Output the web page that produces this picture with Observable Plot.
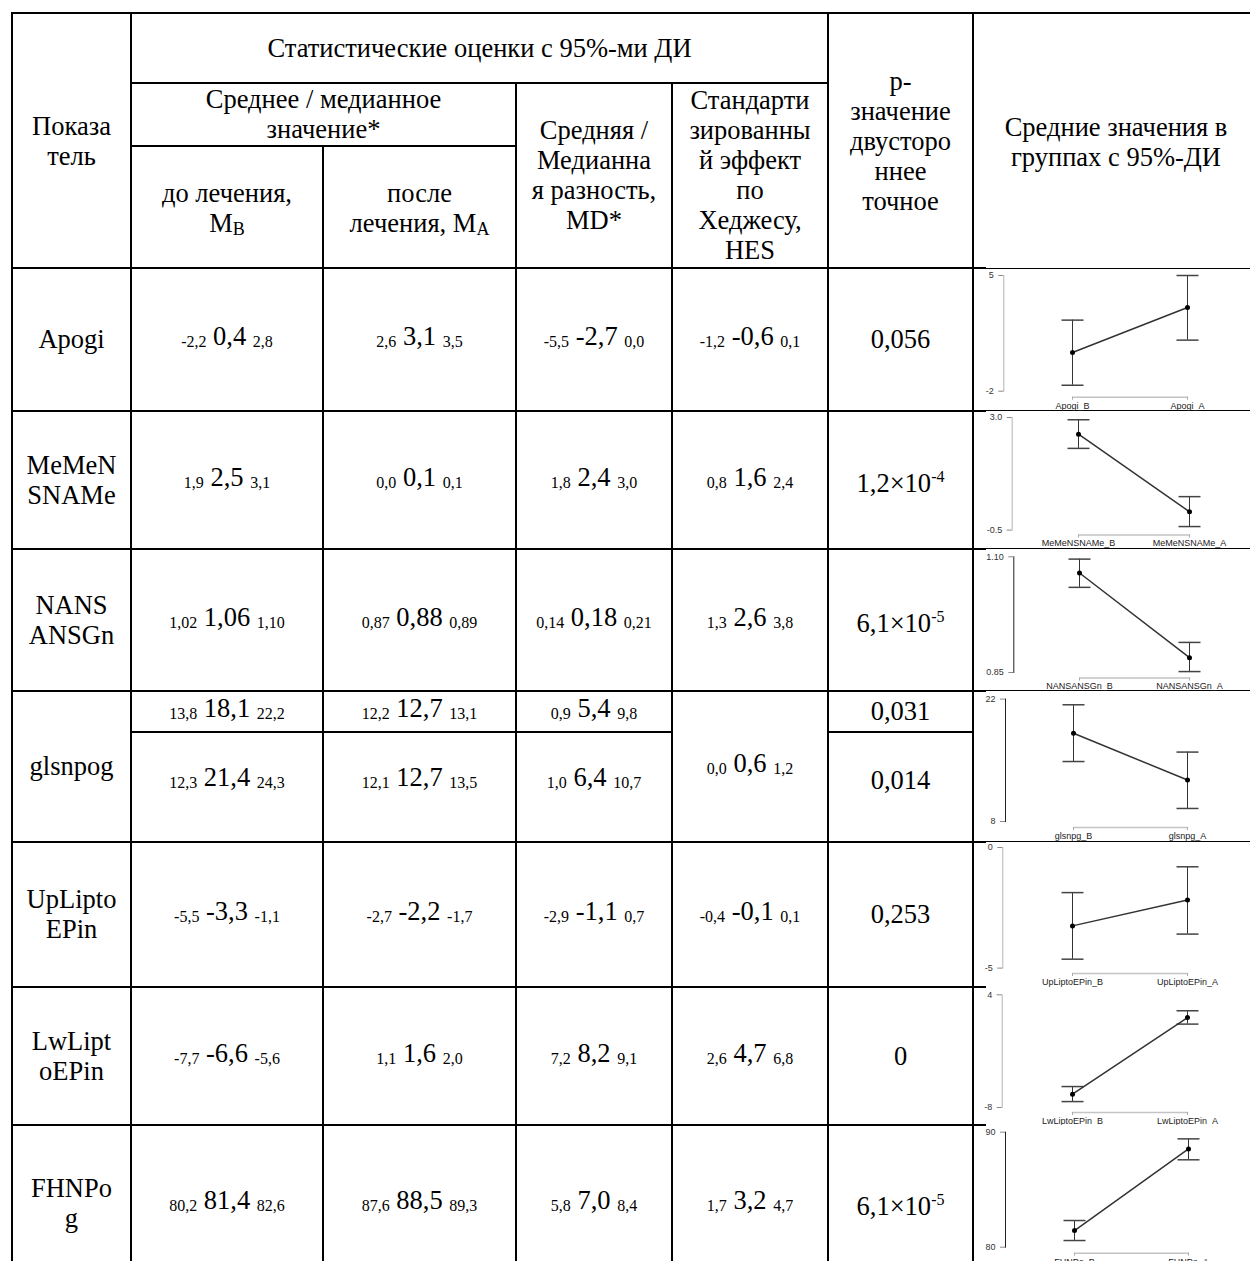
<!DOCTYPE html>
<html><head><meta charset="utf-8">
<script src="https://cdn.jsdelivr.net/npm/d3@7"></script>
<script src="https://cdn.jsdelivr.net/npm/@observablehq/plot@0.6"></script>
<style>
html,body{margin:0;padding:0;background:#fff;overflow:hidden;}
#page{position:relative;width:1250px;height:1261px;overflow:hidden;font-family:"Liberation Serif","Times New Roman",serif;color:#000;background:#fff;}
.cell{position:absolute;box-sizing:border-box;border:2px solid #000;display:flex;align-items:center;justify-content:center;text-align:center;font-size:26.5px;line-height:30px;white-space:nowrap;}
.s{font-size:16px;vertical-align:-2px;}
.sup{font-size:16px;vertical-align:10px;}
.msub{font-size:18px;vertical-align:-3px;}
.hline{position:absolute;background:#000;}
.chart{position:absolute;overflow:hidden;}
</style></head><body><div id="page"></div>
<script>
// ---------- table data ----------
const indicators = ["Apogi", "MeMeN\nSNAMe", "NANS\nANSGn", "glsnpog", "UpLipto\nEPin", "LwLipt\noEPin", "FHNPo\ng"];
// [lower, estimate, upper]; glsnpog has two lines
const meanBefore = [
  [["-2,2","0,4","2,8"]], [["1,9","2,5","3,1"]], [["1,02","1,06","1,10"]],
  [["13,8","18,1","22,2"],["12,3","21,4","24,3"]],
  [["-5,5","-3,3","-1,1"]], [["-7,7","-6,6","-5,6"]], [["80,2","81,4","82,6"]]
];
const meanAfter = [
  [["2,6","3,1","3,5"]], [["0,0","0,1","0,1"]], [["0,87","0,88","0,89"]],
  [["12,2","12,7","13,1"],["12,1","12,7","13,5"]],
  [["-2,7","-2,2","-1,7"]], [["1,1","1,6","2,0"]], [["87,6","88,5","89,3"]]
];
const meanDiff = [
  [["-5,5","-2,7","0,0"]], [["1,8","2,4","3,0"]], [["0,14","0,18","0,21"]],
  [["0,9","5,4","9,8"],["1,0","6,4","10,7"]],
  [["-2,9","-1,1","0,7"]], [["7,2","8,2","9,1"]], [["5,8","7,0","8,4"]]
];
const hedges = [["-1,2","-0,6","0,1"],["0,8","1,6","2,4"],["1,3","2,6","3,8"],["0,0","0,6","1,2"],["-0,4","-0,1","0,1"],["2,6","4,7","6,8"],["1,7","3,2","4,7"]];
const pValues = [["0,056"],["1,2×10^-4"],["6,1×10^-5"],["0,031","0,014"],["0,253"],["0"],["6,1×10^-5"]];

// ---------- chart data ----------
const chartNames = ["Apogi","MeMeNSNAMe","NANSANSGn","glsnpg","UpLiptoEPin","LwLiptoEPin","FHNPo"];
const groups = ["B","A"];
const chartMean = [[0.34,3.06],[2.48,0.07],[1.065,0.882],[18.1,12.74],[-3.25,-2.18],[-6.58,1.58],[81.45,88.55]];
const chartLow  = [[-1.64,1.09],[2.04,-0.39],[1.034,0.852],[14.86,9.49],[-4.63,-3.59],[-7.37,0.88],[80.58,87.6]];
const chartHigh = [[2.3,5.0],[2.93,0.54],[1.095,0.915],[21.35,15.94],[-1.87,-0.8],[-5.77,2.3],[82.32,89.42]];
const axisMin = [-2,-0.5,0.85,8,-5,-8,80];
const axisMax = [5,3.0,1.10,22,0,4,90];
const axisMinLabel = ["-2","-0.5","0.85","8","-5","-8","80"];
const axisMaxLabel = ["5","3.0","1.10","22","0","4","90"];

// ---------- layout ----------
const colX = [12,131,323,516,672,828,973,1259];
const rowY = [13,82.7,145.7,268.3,410.7,548.7,690.7,732,841.7,986.7,1125,1280];
const dataRowStart = [3,4,5,6,8,9,10];
const dataRowEnd = [4,5,6,8,9,10,11];
const chartLayout = [
  {t:7.0,b:122.7,xa:128.7,ax:1003.3,xB:1072.3,xA:1187.3,axisColor:"#b4b4b4"},
  {t:6.0,b:118.6,xa:123.6,ax:1011.7,xB:1077.7,xA:1189,axisColor:"#b4b4b4"},
  {t:7.3,b:123,xa:128.6,ax:1013.3,xB:1079.3,xA:1189.3,axisColor:"#222"},
  {t:7.6,b:130,xa:136,ax:1005,xB:1073.3,xA:1187.3,axisColor:"#222"},
  {t:5.0,b:125.6,xa:131,ax:1002.3,xB:1072.3,xA:1187.3,axisColor:"#b4b4b4"},
  {t:7.3,b:120,xa:125,ax:1001.7,xB:1072.3,xA:1187.3,axisColor:"#b4b4b4"},
  {t:6.7,b:121.7,xa:127.7,ax:1005,xB:1073.3,xA:1187.7,axisColor:"#222"}
];

const page = document.getElementById("page");

function cell(c0,c1,y0,y1,html,extra){
  const d = document.createElement("div");
  d.className = "cell";
  const x0 = colX[c0], x1 = colX[c1];
  d.style.left = (x0-1)+"px"; d.style.top = (y0-1)+"px";
  d.style.width = (x1-x0+2)+"px"; d.style.height = (y1-y0+2)+"px";
  if (extra) Object.assign(d.style, extra);
  const inner = document.createElement("div");
  inner.innerHTML = html;
  d.appendChild(inner);
  page.appendChild(d);
  return d;
}
function hline(x0,x1,y,th){
  const d = document.createElement("div");
  d.className = "hline";
  d.style.left = x0+"px"; d.style.width = (x1-x0)+"px";
  d.style.top = (y-th/2)+"px"; d.style.height = th+"px";
  page.appendChild(d);
}
const trip = v => `<span class="s">${v[0]}</span> ${v[1]} <span class="s">${v[2]}</span>`;
const pfmt = p => { const [m,e] = p.split("^"); return e ? `${m}<span class="sup">${e}</span>` : m; };
const br = s => s.replace(/\n/g,"<br>");

// ---------- header ----------
cell(0,1,rowY[0],rowY[3],"Показа<br>тель");
cell(1,5,rowY[0],rowY[1],"Статистические оценки с 95%-ми ДИ");
cell(1,3,rowY[1],rowY[2],"Среднее / медианное<br>значение*");
cell(1,2,rowY[2],rowY[3],"до лечения,<br>M<span class=\"msub\">B</span>",{paddingTop:"8px"});
cell(2,3,rowY[2],rowY[3],"после<br>лечения, M<span class=\"msub\">A</span>",{paddingTop:"8px"});
cell(3,4,rowY[1],rowY[3],"Средняя /<br>Медианна<br>я разность,<br>MD*");
cell(4,5,rowY[1],rowY[3],"Стандарти<br>зированны<br>й эффект<br>по<br>Хеджесу,<br>HES");
cell(5,6,rowY[0],rowY[3],"p-<br>значение<br>двусторо<br>ннее<br>точное");
cell(6,7,rowY[0],rowY[3],"Средние значения в<br>группах с 95%-ДИ",{borderBottom:"none"});

// ---------- body ----------
indicators.forEach((name,i) => {
  const rs = rowY[dataRowStart[i]], re = rowY[dataRowEnd[i]];
  cell(0,1,rs,re,br(name));
  cell(4,5,rs,re,trip(hedges[i]));
  const n = meanBefore[i].length;
  const bounds = n === 1 ? [rs,re] : [rs, rowY[dataRowStart[i]+1], re];
  for (let k=0;k<n;k++){
    const extra = (n===2 && k===1) ? {paddingBottom:"14px"} : null;
    cell(1,2,bounds[k],bounds[k+1],trip(meanBefore[i][k]),extra);
    cell(2,3,bounds[k],bounds[k+1],trip(meanAfter[i][k]),extra);
    cell(3,4,bounds[k],bounds[k+1],trip(meanDiff[i][k]),extra);
    cell(5,6,bounds[k],bounds[k+1],pfmt(pValues[i][k]),extra);
  }
});

// horizontal lines in chart column
[3,4,5,6,8].forEach(r => { hline(972,986,rowY[r],2); hline(986,1259,rowY[r],1.3); });
[9,10].forEach(r => hline(972,986,rowY[r],2));

// ---------- charts ----------
const capSymbol = {draw(ctx,size){ const w = Math.sqrt(size/Math.PI); ctx.moveTo(-w,0); ctx.lineTo(w,0); }};
indicators.forEach((_,i) => {
  const L = chartLayout[i];
  const r0 = rowY[dataRowStart[i]], r1 = rowY[dataRowEnd[i]];
  const left = 975, W = 284, top = r0 + 1, H = r1 - r0 - 0.5;
  const data = groups.map((g,j) => ({g, mean: chartMean[i][j], lo: chartLow[i][j], hi: chartHigh[i][j]}));
  const off = L.xa - L.b;
  const plot = Plot.plot({
    width: W, height: H,
    marginTop: L.t - 1, marginLeft: L.ax - left, marginRight: 0, marginBottom: H - (L.xa - 1),
    style: {background: "transparent", fontFamily: "'Liberation Sans', Arial, sans-serif", fontSize: "9px", color: "#222"},
    x: {type: "point", padding: 0, domain: groups, range: [L.xB - left, L.xA - left]},
    y: {domain: [axisMin[i], axisMax[i]], range: [L.b - 1, L.t - 1]},
    marks: [
      Plot.frame({anchor: "left", insetBottom: off, stroke: L.axisColor}),
      Plot.axisY({ticks: [axisMin[i], axisMax[i]], tickFormat: d => d === axisMin[i] ? axisMinLabel[i] : axisMaxLabel[i],
                  tickSize: 5, tickPadding: 5, stroke: "#888", fill: "#333", label: null}),
      Plot.line(data, {x: "g", y: () => axisMin[i], dy: off, stroke: "#c4c4c4"}),
      Plot.axisX({tickSize: 3, tickPadding: 2, tickFormat: g => chartNames[i] + "_" + g, stroke: "#aaa", fill: "#222", label: null}),
      Plot.ruleX(data, {x: "g", y1: "lo", y2: "hi", stroke: "#333"}),
      Plot.dot(data, {x: "g", y: "lo", r: 11, symbol: capSymbol, stroke: "#444", fill: "none"}),
      Plot.dot(data, {x: "g", y: "hi", r: 11, symbol: capSymbol, stroke: "#444", fill: "none"}),
      Plot.line(data, {x: "g", y: "mean", stroke: "#333"}),
      Plot.dot(data, {x: "g", y: "mean", r: 2.5, fill: "#000", stroke: "none"})
    ]
  });
  const box = document.createElement("div");
  box.className = "chart";
  box.style.left = left + "px"; box.style.top = top + "px";
  box.style.width = W + "px"; box.style.height = H + "px";
  box.appendChild(plot);
  page.appendChild(box);
});
</script></body></html>
